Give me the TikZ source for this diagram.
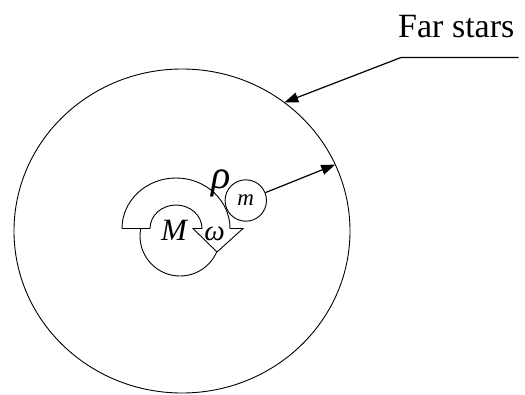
\documentclass[tikz,border=0pt]{standalone}
\usepackage{fontspec}
\setmainfont{Liberation Serif}
\newfontfamily\starfont{Liberation Serif}
\usetikzlibrary{arrows.meta,positioning,calc}
\tikzset{
  ringln/.style={line width=0.9pt},
  pointer/.style={-{Triangle[length=14pt,width=10pt]}, line width=1.2pt},
  spinln/.style={line width=0.9pt, fill=white, line join=miter},
  lbl/.style={inner sep=0pt, anchor=base},
}

\begin{document}
\begin{tikzpicture}[x=1pt,y=-1pt]
    \useasboundingbox (0,0) rectangle (525,394);
    % Sphere of the far stars
    \coordinate (O) at (182,231);
    \draw[ringln] (O) ellipse [x radius=168, y radius=162];
    % Central mass M
    \draw[ringln] (180,236) circle [radius=40];
    % Rotation arrow omega (white band over M)
    \draw[spinln] (122,228.5) -- (150,228.5)
      arc[start angle=180, end angle=360, x radius=26, y radius=23.5]
      -- (193,228.5) -- (217,252) -- (243,228.5) -- (230,228.5)
      arc[start angle=360, end angle=180, x radius=54, y radius=50.5] -- cycle;
    \node[lbl, font=\starfont\fontsize{31}{31}\selectfont\itshape] (massM) at (174,240) {M};
    \node[lbl, font=\starfont\fontsize{29}{29}\selectfont\itshape] (omega) at (214.5,240) {ω};
    % Test mass m
    \node[circle, draw, ringln, fill=white, minimum size=41.4pt, inner sep=0pt,
      font=\starfont\fontsize{23}{23}\selectfont\itshape] (mass) at (245.8,200.5) {m};
    \node[lbl, font=\starfont\fontsize{40}{40}\selectfont\itshape] (rho) at (221,188) {ρ};
    % Label and pointers
    \node[lbl, anchor=base west, font=\starfont\fontsize{34}{34}\selectfont] (farstars) at (398,37) {Far stars};
    \coordinate (leadR) at (518.5,57.5);
    \coordinate (leadL) at (401,57.5);
    \coordinate (hitA) at ($(O)+(-52.5:168 and 162)$);
    \coordinate (hitB) at ($(O)+(-24.2:168 and 162)$);
    \draw[pointer] (leadR) -- (leadL) -- (hitA);
    \draw[pointer] (mass) -- (hitB);
\end{tikzpicture}
\end{document}
